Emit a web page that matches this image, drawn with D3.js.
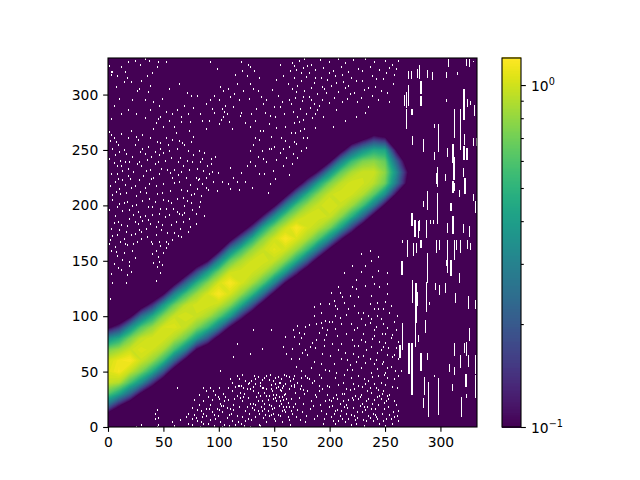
<!DOCTYPE html>
<html><head><meta charset="utf-8">
<script src="https://cdn.jsdelivr.net/npm/d3@7"></script>
<style>html,body{margin:0;background:#fff}svg{display:block}text{font-family:"DejaVu Sans";font-size:13.89px;fill:#000}</style>
</head><body><div id="c"></div>
<script>
const xTicks=[0,50,100,150,200,250,300];
const yTicks=[0,50,100,150,200,250,300];
const cbMajor=[0.1,1];
const cbMinor=[0.2,0.3,0.4,0.5,0.6,0.7,0.8,0.9];
const gridStep=10, gridSize=29, logFloor=-1.4;
// log10 of the value along each column x=0,10,20...; first row index in bandStart
const bandStart=[1,1,2,3,3,4,5,6,7,7,8,9,9,10,11,12,13,13,14,15,16,16,17,18,19,20,21,21];
const bandColumns=[
[-1.16,-.59,-.2,-.01,.03,.01,-.13,-.46,-1.04],
[-1.36,-.92,-.36,-.04,.07,.06,-.07,-.33,-.84,-1.32],
[-1.2,-.64,-.23,-.01,.08,0,-.13,-.46,-1.04],
[-1.04,-.46,-.13,0,.03,-.01,-.2,-.59,-1.16],
[-1.32,-.84,-.33,-.08,.01,.02,-.08,-.33,-.84,-1.32],
[-1.24,-.7,-.26,-.05,.02,.02,-.11,-.4,-1],
[-1.2,-.64,-.23,-.04,.03,0,-.15,-.5,-1.08],
[-1.08,-.5,-.15,-.01,.02,-.02,-.23,-.64,-1.2],
[-1,-.4,-.11,0,.02,-.07,-.3,-.77,-1.28],
[-1.24,-.7,-.26,-.05,.02,.02,-.11,-.4,-1],
[-1.12,-.54,-.18,-.01,.08,.02,-.15,-.5,-1.08],
[-1,-.4,-.11,.02,.08,0,-.18,-.54,-1.12],
[-1.32,-.84,-.33,-.08,.02,.02,-.05,-.26,-.7,-1.24],
[-1.24,-.7,-.26,-.05,.01,.01,-.08,-.33,-.84,-1.32],
[-1.16,-.59,-.2,-.03,.02,0,-.1,-.36,-.92,-1.36],
[-1.08,-.5,-.15,-.01,.04,.01,-.13,-.46,-1.04],
[-1,-.4,-.11,.01,.08,0,-.18,-.54,-1.12],
[-1.32,-.84,-.33,-.08,.03,.08,-.04,-.23,-.64,-1.2],
[-1.24,-.7,-.26,-.05,.02,.02,-.07,-.3,-.77,-1.28],
[-1.16,-.59,-.2,-.03,.02,0,-.1,-.36,-.92,-1.36],
[-1.04,-.46,-.13,0,.02,0,-.13,-.46,-1.04],
[-1.36,-.92,-.36,-.1,0,.02,-.02,-.18,-.54,-1.12],
[-1.28,-.77,-.3,-.07,.01,.02,-.05,-.26,-.7,-1.24],
[-1.2,-.64,-.23,-.04,.01,0,-.13,-.46,-1.04],
[-1.12,-.54,-.18,-.03,0,-.1,-.33,-.84,-1.32],
[-1.04,-.46,-.15,-.1,-.17,-.36,-.92,-1.36],
[-1,-.55,-.45,-.64,-1,-1.36],
[-1.4,-1.04,-.96,-1.16,-1.4]];
// empty (masked) cells, x,y pairs
const maskedCells=[
1,327,3,321,4,321,3,319,15,321,17,316,24,331,29,328,33,333,37,331,35,318,30,313,14,312,7,308,28,306,45,330,44,326,36,303,22,296,10,297,5,291,41,294,18,287,25,283,33,280,12,283,3,279,38,287,47,281,43,275,
1,267,2,259,4,252,1,243,6,246,8,236,3,229,9,225,2,218,7,213,4,206,10,202,1,197,6,191,9,186,3,180,8,174,2,170,5,262,9,255,
12,265,14,251,11,241,16,247,13,232,18,227,15,219,11,211,17,204,13,196,19,189,12,183,16,177,14,171,18,262,19,240,
21,268,24,255,22,245,27,260,26,238,29,249,23,231,28,224,21,217,25,209,29,213,22,200,27,195,24,186,28,179,21,174,26,168,29,190,
31,264,33,247,36,254,30,236,35,242,38,233,32,227,37,220,34,212,39,225,31,205,36,199,33,191,38,184,30,177,35,172,39,168,37,207,
41,270,44,258,42,249,47,252,45,240,48,234,41,226,46,229,43,218,49,212,42,204,47,198,40,192,45,186,48,179,43,174,46,168,
52,262,55,250,51,241,57,244,53,233,58,226,50,220,56,214,54,205,59,198,51,190,57,183,53,176,58,170,
61,266,64,259,62,252,69,255,67,257,65,244,68,236,63,228,60,221,66,215,62,207,69,200,64,193,67,192,69,194,61,186,65,180,63,173,
72,250,75,258,71,241,77,246,73,233,79,226,74,219,78,211,71,205,76,197,73,189,79,184,72,177,
83,240,86,232,81,224,88,217,84,209,82,199,87,191,85,243,89,236,
91,229,95,222,98,214,93,238,97,245,
49,297,55,306,64,310,71,302,75,300,62,287,69,291,77,289,58,283,83,283,92,296,85,277,96,300,92,330,98,324,55,277,66,276,74,276,50,272,45,279,91,277,96,284,88,270,
101,308,104,304,103,288,105,285,106,291,107,283,104,281,102,278,110,299,113,290,116,310,118,296,120,284,124,275,112,270,119,282,100,274,122,304,125,318,128,326,127,297,129,283,120,330,126,328,115,319,128,272,109,276,125,236,120,230,128,240,113,226,118,215,124,222,108,220,110,216,
132,322,136,316,131,306,138,299,134,288,140,292,133,277,137,268,142,284,136,260,145,274,131,255,139,250,147,263,135,245,143,240,133,236,149,232,141,229,146,220,150,290,148,305,152,314,155,328,158,318,153,300,157,294,151,281,160,272,156,262,159,283,162,310,164,322,163,296,150,254,155,248,161,244,158,236,163,228,152,242,147,252,165,266,168,275,144,212,151,225,
166,329,172,331,177,333,183,328,191,332,199,330,208,333,214,329,221,332,232,333,240,330,250,331,256,328,
170,323,176,325,181,320,187,323,194,325,203,322,210,326,217,321,226,324,236,326,245,323,254,325,262,331,
168,316,174,313,179,317,186,311,192,316,198,314,205,318,212,312,219,316,229,313,238,318,248,315,258,319,
166,306,171,309,177,304,183,307,189,301,195,306,201,309,208,303,214,307,222,302,231,305,241,308,252,302,
169,298,175,295,181,299,186,292,193,296,199,293,206,287,216,297,225,294,235,290,
167,285,173,288,179,283,184,280,189,287,172,276,177,270,169,266,176,262,170,256,174,250,167,247,179,253,
203,272,214,277,224,281,232,284,187,271,
1,166,3,160,6,163,8,155,11,168,14,158,17,165,22,160,24,153,19,146,12,143,5,148,17,138,21,141,4,131,2,116,40,166,43,160,45,154,47,164,50,158,41,149,44,145,47,140,52,168,
42,13,44,16,45,9,42,8,45,3,44,1,30,3,25,1,58,5,62,36,60,2,65,7,70,10,72,4,
76,3,78,12,80,6,83,1,85,10,88,17,76,18,90,4,92,21,94,14,97,8,82,21,86,24,90,28,96,2,98,17,94,25,88,33,92,36,97,30,84,15,99,11,79,9,86,4,100,36,
101,5,103,14,105,24,107,9,102,20,104,31,109,2,110,17,112,6,106,28,114,26,108,36,111,13,113,21,103,1,100,26,107,18,115,3,112,33,110,44,
116,11,118,19,120,4,122,28,124,15,126,8,128,22,117,38,119,32,121,24,123,2,125,35,127,13,129,42,116,47,118,44,122,36,124,6,126,27,128,1,130,18,121,48,126,40,
131,33,133,10,135,24,137,38,139,15,141,45,143,5,145,29,147,20,149,42,132,47,134,28,136,3,138,19,140,36,142,12,144,25,146,48,148,33,150,8,131,22,133,40,135,15,137,29,139,43,141,22,143,35,145,11,147,39,149,26,
151,45,152,30,153,37,154,20,155,34,156,44,157,28,158,38,159,16,160,31,161,47,162,23,163,35,164,42,165,26,152,36,154,41,156,33,158,25,160,40,150,18,153,12,155,24,157,5,162,10,165,15,151,27,159,48,163,19,164,3,
166,13,168,37,170,10,172,27,174,45,176,22,178,5,180,33,182,17,184,41,186,8,188,28,190,38,192,15,194,4,196,24,198,30,169,22,173,7,177,31,181,44,185,20,189,11,193,35,197,13,199,19,
201,10,203,27,205,4,207,16,209,22,211,8,213,31,215,13,217,25,219,3,221,18,223,29,225,9,227,20,229,14,231,2,233,24,235,11,237,32,239,6,241,17,243,28,245,4,247,13,249,23,251,8,253,19,202,20,206,30,210,15,214,5,218,34,222,11,226,26,230,7,234,19,238,22,242,10,246,26,250,2,254,12,204,13,208,6,212,24,216,18,220,27,224,4,228,30,232,16,236,9,240,25,244,21,248,6,252,29,256,4,258,10,262,6,262,15,260,21,
228,157,237,151,213,140,244,142,252,130,220,127,201,122,211,118,191,112,199,112,217,107,240,107,244,107,252,121,196,97,205,101,228,98,237,98,246,98,261,101,178,91,186,101,198,88,210,94,219,94,240,88,247,85,168,82,177,85,184,77,195,79,220,79,228,79,237,73,246,70,166,71,178,70,193,67,208,70,226,64,232,59,216,61,192,58,174,51,199,51,228,54,237,50,249,48,259,51,264,51,180,45,186,42,205,45,219,45,235,42,252,45,261,36,168,39,174,38,
232,146,224,134,208,127,240,130,226,118,250,114,204,115,236,112,186,109,207,107,226,104,192,104,199,96,235,101,248,94,258,96,171,92,192,95,232,93,242,91,252,90,205,89,225,90,250,85,256,84,207,83,190,86,215,85,174,81,195,74,222,74,238,80,250,77,262,78,172,76,187,72,210,76,233,70,248,73,260,72,180,66,200,65,252,66,256,64,242,61,262,62,204,58,172,62,186,60,216,52,240,58,252,54,247,58,168,47,190,48,212,41,244,47,258,44,262,47,198,38,226,38,240,40,250,39,176,34,190,33,222,35,236,36,244,34,232,40,246,41,256,37,
131,88,147,88,160,82,139,71,128,67,158,73,161,67,116,76,113,64,101,51,86,36,118,38];
const maskedCellsMore=[
3,264,7,258,10,249,5,239,12,236,8,229,15,240,18,234,6,222,13,224,20,225,10,216,16,212,24,218,4,210,8,199,14,203,19,197,25,201,5,185,10,179,17,182,23,192,27,184,31,187,4,173,15,166,24,175,30,171,34,180,33,217,28,240,31,252,25,263,38,262,42,238,39,245,46,246,34,232,44,211,50,206,40,199,46,193,52,198,36,188,55,192,60,176,49,183,43,181,54,166,47,257,50,248,54,255,58,260,63,240,60,233,56,230,66,231,70,226,64,222,71,214,75,210,80,216,68,208,57,203,62,195,75,203,79,193,83,204,68,186,74,181,66,172,82,225,85,220,90,215,76,240,80,234,88,226,94,231,77,263,82,250,73,268,87,248,93,243,99,230,103,222,
110,235,116,222,130,217,136,229,140,243,145,252,128,250,133,262,140,268,146,282,152,271,155,290,143,296,135,304,128,310,121,322,114,301,108,306,100,296,94,288,88,292,80,300,72,283,66,281,60,272,52,285,46,291,33,296,26,304,21,312,12,326,8,318,18,330,40,320,38,309,52,330,
168,327,174,320,180,327,187,316,193,308,199,320,206,311,211,319,217,309,224,313,229,322,235,307,242,315,246,304,251,320,257,310,260,324,170,303,176,299,183,296,190,291,197,302,204,298,211,294,218,301,228,298,238,300,244,296,254,294,165,292,171,281,176,278,182,289,187,283,194,281,168,258,173,268,180,262,163,254,160,259,171,244,166,238,158,252,
7,159,13,152,9,144,3,139,16,131,19,150,23,166,43,133,46,150,49,147,52,162,40,157,
133,44,135,46,137,41,139,36,141,32,143,47,145,43,147,35,149,30,151,40,153,46,155,41,157,36,159,30,161,26,163,46,165,38,167,44,169,32,171,41,173,35,152,24,154,28,156,22,158,19,160,14,148,17,144,15,140,9,136,13,132,16,128,35,124,42,120,38,116,29,112,41,108,25,104,20,100,16,96,12,92,7,88,11,84,5,80,16,76,8,72,13,78,25,82,30,86,13,91,17,95,33,99,28,101,22,105,3,109,12,113,16,117,5,121,10,125,19,129,7,133,21,137,2,141,17,145,21,149,13,115,37,119,27,123,31,127,41,131,37,135,32,139,24,143,29,147,12,151,6,155,11,157,15,161,19,163,7,167,19,171,16,175,14,179,11,183,24,187,30,191,21,195,8,199,25,
201,24,205,15,209,11,213,19,217,8,221,25,225,14,229,22,233,6,237,17,241,12,245,29,249,17,253,26,257,14,261,11,203,6,207,26,211,31,215,21,219,12,223,7,227,28,231,19,235,26,239,13,243,8,247,31,251,24,255,8,199,37,208,39,215,35,221,40,229,37,234,33,242,36,248,33,254,30,258,24,206,50,213,48,220,52,226,47,231,44,238,46,243,53,250,50,255,55,210,62,218,57,224,60,230,65,236,62,243,68,248,60,253,72,258,66,192,45,196,52,183,54,178,47,170,55,165,62,175,68,182,73,188,79,197,84,202,76,214,68,221,67,226,74,232,78,240,83,245,78,255,81,167,88,172,86,181,93,188,94,193,90,202,96,209,99,215,102,222,88,230,85,236,95,243,101,254,104,260,88,205,110,213,113,222,110,230,104,237,119,243,113,248,107,255,110,209,122,218,119,224,125,232,128,238,136,245,127,252,140,228,141,220,146,236,160,244,154];
// vertical runs of empty cells: [x,yLow,yHigh,columns]
const maskedRuns=[
[281,314,327,1],[282,300,312,2],[282,290,299,2],[271,314,321,1],[273,314,321,1],[279,315,323,1],[288,315,322,1],[292,313,320,1],[307,325,332,1],[305,315,320,1],[315,317,320,1],[323,326,332,1],[326,325,332,1],[329,329,330,1],
[271,290,309,1],[267,290,300,1],[269,288,302,1],[273,282,287,2],[269,269,287,1],[274,255,263,1],[284,248,260,1],[294,269,273,1],[298,248,273,1],[294,241,248,1],[320,277,305,2],[318,250,287,1],[312,261,287,1],[324,289,296,1],[330,281,291,1],[305,293,296,1],[327,290,294,1],
[310,238,255,2],[306,244,252,1],[311,223,244,2],[320,241,254,2],[323,241,252,2],[321,254,264,1],[329,254,261,1],[332,254,261,1],[304,222,228,1],[310,211,222,2],[312,213,220,1],[297,217,235,1],[296,219,229,1],[320,226,234,1],[321,211,225,2],[288,196,213,1],[284,199,204,1],[297,183,211,1],[317,208,214,1],[309,195,202,2],[329,204,210,1],[331,193,204,1],[310,174,190,2],[306,175,184,1],[273,181,193,2],[276,172,187,2],[280,171,186,1],[281,177,187,1],[291,183,187,1],[293,183,187,1],[287,171,187,1],[326,171,181,1],[320,175,183,1],
[282,162,169,2],[275,154,166,1],[270,154,169,1],[265,166,169,1],[264,137,150,2],[288,130,157,1],[278,157,166,1],[296,157,169,1],[299,160,169,1],[306,139,169,1],[312,151,169,1],[309,137,151,2],[318,157,169,1],[324,161,169,1],[327,160,166,1],[314,160,169,1],[317,130,139,1],[305,146,151,1],[304,121,130,1],[299,119,128,1],[295,124,130,1],[277,94,130,2],[274,112,133,1],[279,109,122,1],[287,104,131,1],[290,110,113,1],[313,112,121,1],[325,106,118,1],[331,107,115,1],[286,85,97,1],[277,73,97,1],[280,77,83,1],[271,48,76,2],[273,29,76,2],[265,70,94,1],[263,62,74,2],[282,51,67,2],[288,61,67,1],[326,77,89,1],[323,64,77,1],[321,67,76,1],[312,64,76,1],[318,53,65,1],[325,54,65,1],[331,48,65,1],[308,50,57,1],[312,47,54,1],[322,36,48,2],[310,33,39,1],[285,29,45,1],[289,9,41,1],[284,17,26,1],[298,11,44,1],[319,9,27,1],[331,26,47,1],[323,26,30,1],[294,45,47,1]];

const W=640,H=480,L=108,R=477,T=58,B=427;
const svg=d3.select("#c").append("svg").attr("width",W).attr("height",H);
const x=d3.scaleLinear().domain([0,333]).range([L,R]);
const y=d3.scaleLinear().domain([0,333]).range([B,T]);
const cb=d3.scaleLog().domain([0.1,1.2]).range([B,T]);
const colorT=d3.scaleLog().domain([0.1,1.2]).range([0,1]);
const color=v=>d3.interpolateViridis(colorT(v));

svg.append("defs").append("clipPath").attr("id","plot").append("rect").attr("x",L).attr("y",T).attr("width",R-L).attr("height",B-T);
const plot=svg.append("g").attr("clip-path","url(#plot)");
plot.append("rect").attr("x",L).attr("y",T).attr("width",R-L).attr("height",B-T).attr("fill",color(0.1));

const speck=plot.append("g").attr("fill","#fff").attr("shape-rendering","crispEdges");
[maskedCells,maskedCellsMore].forEach(list=>{
  for(let i=0;i<list.length;i+=2){
    speck.append("rect").attr("x",Math.round(x(list[i]))).attr("y",Math.round(y(list[i+1])))
      .attr("width",1).attr("height",2);
  }
});
maskedRuns.forEach(([xx,lo,hi,w])=>{
  speck.append("rect").attr("x",Math.round(x(xx))).attr("y",Math.round(y(hi))).attr("width",w).attr("height",Math.round(y(lo)-y(hi)));
});

const grid=new Array(gridSize*gridSize).fill(logFloor);
bandColumns.forEach((col,i)=>col.forEach((v,k)=>{grid[(bandStart[i]+k)*gridSize+i]=v;}));
const thresholds=d3.range(-1,0.085,0.015);
const contours=d3.contours().size([gridSize,gridSize]).thresholds(thresholds)(grid);
const path=d3.geoPath(d3.geoTransform({point(px,py){this.stream.point(x((px-.5)*gridStep),y((py-.5)*gridStep));}}));
plot.append("g").selectAll("path").data(contours).join("path")
  .attr("d",path).attr("fill",d=>color(Math.pow(10,d.value)));

const ax=svg.append("g").attr("transform",`translate(0,${B})`)
  .call(d3.axisBottom(x).tickValues(xTicks).tickFormat(d3.format("d")).tickSize(4.86).tickPadding(4.86));
const ay=svg.append("g").attr("transform",`translate(${L},0)`)
  .call(d3.axisLeft(y).tickValues(yTicks).tickFormat(d3.format("d")).tickSize(4.86).tickPadding(4.86));
[ax,ay].forEach(a=>{a.select(".domain").remove();a.selectAll("line").attr("stroke","#000").attr("stroke-width",1.1);a.selectAll("text").style("font-family",'"DejaVu Sans"').style("font-size","13.89px");});
svg.append("rect").attr("x",L).attr("y",T).attr("width",R-L).attr("height",B-T).attr("fill","none").attr("stroke","#000").attr("stroke-width",1.1);

const CL=502,CR=521;
const cbLevels=d3.range(256).map(i=>Math.pow(10,-1+(i/256)*(Math.log10(1.2)+1)));
svg.append("g").attr("shape-rendering","crispEdges").selectAll("rect").data(cbLevels).join("rect")
  .attr("x",CL).attr("width",CR-CL).attr("y",d=>cb(d)-2).attr("height",2.5).attr("fill",d=>color(d));
svg.append("rect").attr("x",CL).attr("y",T).attr("width",CR-CL).attr("height",B-T).attr("fill","none").attr("stroke","#000").attr("stroke-width",1.1);
const minorAxis=svg.append("g").attr("transform",`translate(${CR},0)`)
  .call(d3.axisRight(cb).tickValues(cbMinor).tickFormat("").tickSize(2.78));
const majorAxis=svg.append("g").attr("transform",`translate(${CR},0)`)
  .call(d3.axisRight(cb).tickValues(cbMajor).tickFormat("").tickSize(4.86));
[minorAxis,majorAxis].forEach(a=>{a.select(".domain").remove();a.selectAll("line").attr("stroke","#000").attr("stroke-width",1.1);});
const cbLabels=svg.append("g").selectAll("text").data(cbMajor).join("text")
  .attr("x",531).attr("y",d=>cb(d)+5.5);
cbLabels.append("tspan").text("10");
cbLabels.append("tspan").attr("dy",-5.5).style("font-size","9.7px").text(d=>d===1?"0":"\u22121");
</script></body></html>
